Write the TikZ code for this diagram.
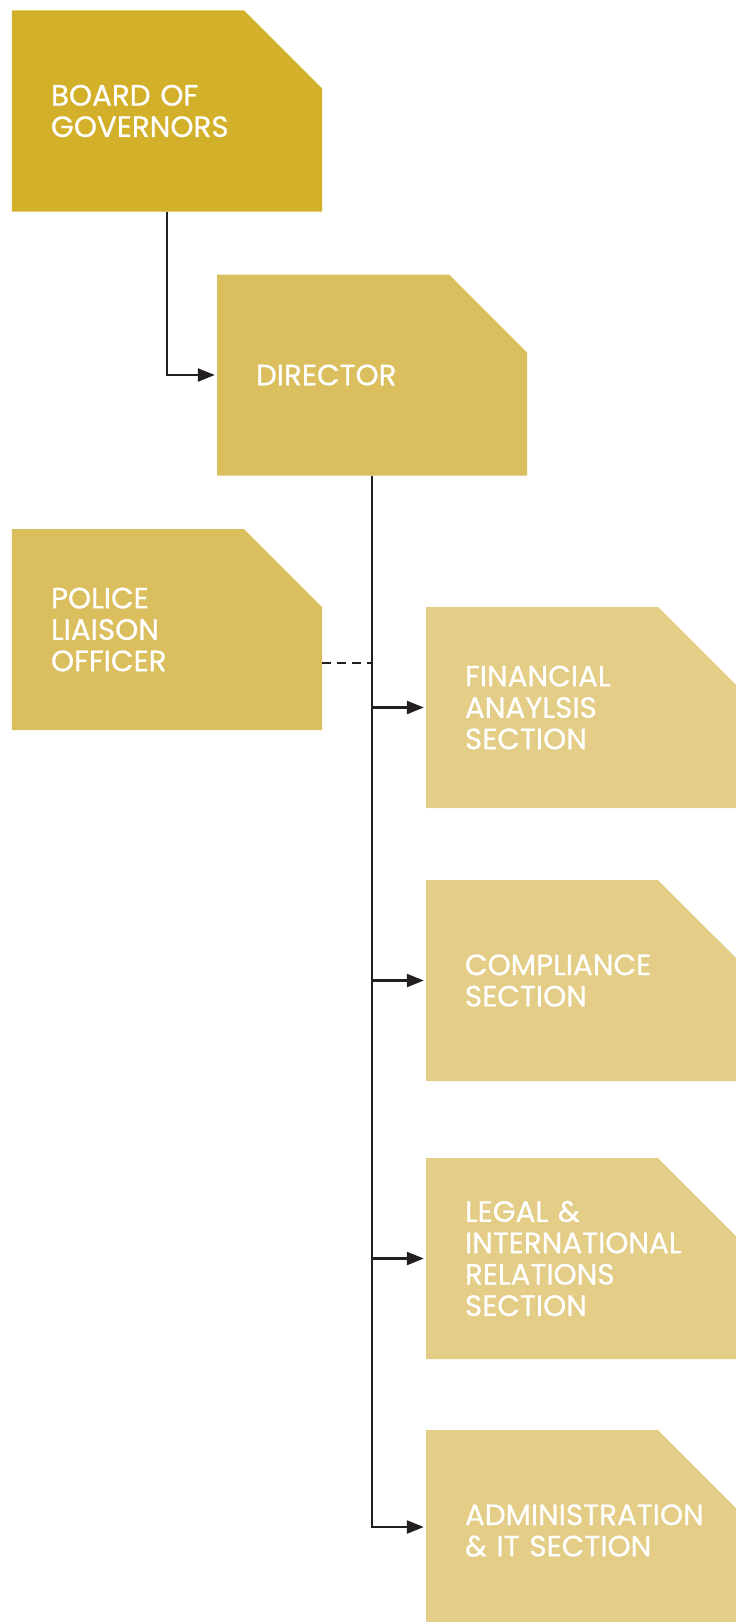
\documentclass[tikz,border=0pt]{standalone}
\usepackage{fontspec}
\setmainfont{Poppins}[FakeBold=0.6]
\usetikzlibrary{arrows.meta}

\definecolor{goldDark}{HTML}{D2B02A}
\definecolor{goldMid}{HTML}{DBBE5E}
\definecolor{goldLight}{HTML}{E3CD87}
\definecolor{ink}{HTML}{231F20}

\begin{document}
\begin{tikzpicture}[
		x=1bp, y=-1bp,
		every node/.style={rectangle, minimum width=310bp, minimum height=201bp,
			inner xsep=39bp, inner ysep=0pt, text width=232bp, align=left,
			text=white, font=\fontsize{29.5}{31.5}\selectfont},
		cut/.style={path picture={
			\fill[#1] (path picture bounding box.north west)
				-- ([xshift=-78bp]path picture bounding box.north east)
				-- ([yshift=-78bp]path picture bounding box.north east)
				-- (path picture bounding box.south east)
				-- (path picture bounding box.south west) -- cycle;}},
		link/.style={draw=ink, line width=2.4bp, -{Triangle[length=17bp, width=13bp]}, shorten >=2bp}
	]
  \useasboundingbox (0, 0) rectangle (736, 1622);
  \node (board_gov) [cut=goldDark] at (167, 111) {BOARD OF\\GOVERNORS};
  \node (director) [cut=goldMid] at (372, 375) {DIRECTOR};
  \node (police_lo) [cut=goldMid] at (167, 629.5) {POLICE\\LIAISON\\OFFICER};
  \node (sec_fin) [cut=goldLight] at (581, 707.5) {FINANCIAL\\ANAYLSIS\\SECTION};
  \node (sec_comp) [cut=goldLight] at (581, 980.5) {COMPLIANCE\\SECTION};
  \node (sec_legal) [cut=goldLight] at (581, 1258.5) {LEGAL \&\\INTERNATIONAL\\RELATIONS\\SECTION};
  \node (sec_admin) [cut=goldLight] at (581, 1530.5) {ADMINISTRATION\\\& IT SECTION};
  \coordinate (tap) at (372, 663);
  \draw [link] (board_gov) |- (director);
  \draw [link] (director) |- (sec_fin);
  \draw [link] (director) |- (sec_comp);
  \draw [link] (director) |- (sec_legal);
  \draw [link] (director) |- ([yshift=3.5bp]sec_admin.west);
  \draw [draw=ink, line width=2.4bp, dash pattern=on 9bp off 6bp] (police_lo.east |- tap) -- (tap);
\end{tikzpicture}
\end{document}
